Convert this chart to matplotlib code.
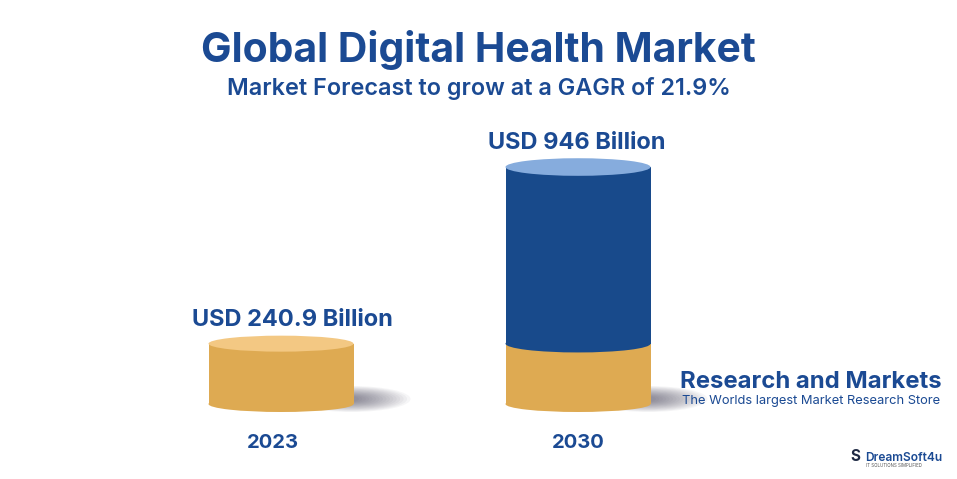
import matplotlib
matplotlib.use("Agg")
import matplotlib.pyplot as plt
from matplotlib.patches import Ellipse, Rectangle

# ---- data ----
years = ["2023", "2030"]
base_values = [240.9, 240.9]          # gold segment (2023 market size)
growth_values = [0.0, 946 - 240.9]    # blue segment on top
value_labels = ["USD 240.9 Billion", "USD 946 Billion"]
title = "Global Digital Health Market"
subtitle = "Market Forecast to grow at a GAGR of 21.9%"
source_title = "Research and Markets"
source_sub = "The Worlds largest Market Research Store"

# ---- style ----
W, H = 957, 479
TEXT = "#1B4A93"
GOLD = "#DEAA52"
GOLD_TOP = "#F3C883"
BLUE = "#184A8B"
BLUE_TOP = "#86ACDD"
FONT = ["Inter", "DejaVu Sans"]

fig = plt.figure(figsize=(W / 100, H / 100), dpi=100)
fig.patch.set_facecolor("white")
ax = fig.add_axes([0, 0, 1, 1])
ax.set_xlim(0, W)
ppb = 0.2505
base_px = 404
ax.set_ylim((base_px - H) / ppb, base_px / ppb)
ax.axis("off")

centers = [281, 578]
bw = 145
eh = 16 / ppb

for i, xc in enumerate(centers):
    b = base_values[i]
    g = growth_values[i]
    # soft shadow to the right of the base
    n = 16
    for k in range(n):
        f = 1 - k / n
        ax.add_patch(Ellipse((xc + bw / 2 - 2, 5 / ppb), 110 * f + 8,
                             (22 * f + 4) / ppb, color="#34324a", alpha=0.045,
                             lw=0, zorder=1))
    # gold body
    ax.add_patch(Ellipse((xc, 0), bw, eh, color=GOLD, lw=0, zorder=2))
    ax.add_patch(Rectangle((xc - bw / 2, 0), bw, b, color=GOLD, lw=0, zorder=2))
    top = b
    if g > 0:
        ax.add_patch(Ellipse((xc, b), bw, eh * 1.1, color=BLUE, lw=0, zorder=3))
        ax.add_patch(Rectangle((xc - bw / 2, b), bw, g, color=BLUE, lw=0, zorder=3))
        top = b + g
        ax.add_patch(Ellipse((xc, top), bw, eh * 1.1, color=BLUE_TOP, lw=0, zorder=4))
    else:
        ax.add_patch(Ellipse((xc, top), bw, eh, color=GOLD_TOP, lw=0, zorder=4))
    ax.text(xc + (11 if i == 0 else -1), top + 18 / ppb, value_labels[i],
            ha="center", va="baseline", fontsize=17, fontweight="bold",
            color=TEXT, family=FONT, zorder=5)
    ax.text(xc - (8 if i == 0 else 0), -44 / ppb, years[i], ha="center",
            va="baseline", fontsize=14.5, fontweight="bold", color=TEXT,
            family=FONT, zorder=5)

# titles
fig.text(478 / W, 1 - 62 / H, title, ha="center", va="baseline", fontsize=29.4,
         fontweight="bold", color=TEXT, family=FONT)
fig.text(479 / W, 1 - 95 / H, subtitle, ha="center", va="baseline", fontsize=16.9,
         fontweight="semibold", color=TEXT, family=FONT)

# source
fig.text(811 / W, 1 - 388 / H, source_title, ha="center", va="baseline",
         fontsize=17.2, fontweight="bold", color=TEXT, family=FONT)
fig.text(811 / W, 1 - 404 / H, source_sub, ha="center", va="baseline",
         fontsize=9.3, color=TEXT, family=FONT)

# logo
fig.text(865 / W, 1 - 461 / H, "DreamSoft4u", ha="left", va="baseline",
         fontsize=8.6, fontweight="semibold", color="#1B4A93", family=FONT)
fig.text(866 / W, 1 - 467 / H, "IT SOLUTIONS SIMPLIFIED", ha="left",
         va="baseline", fontsize=3.2, color="#555555", family=FONT)
fig.text(850 / W, 1 - 461 / H, "S", ha="left", va="baseline", fontsize=11,
         fontweight="bold", color="#1f2a44", family=FONT)

fig.savefig("out.png", dpi=100, facecolor="white")
